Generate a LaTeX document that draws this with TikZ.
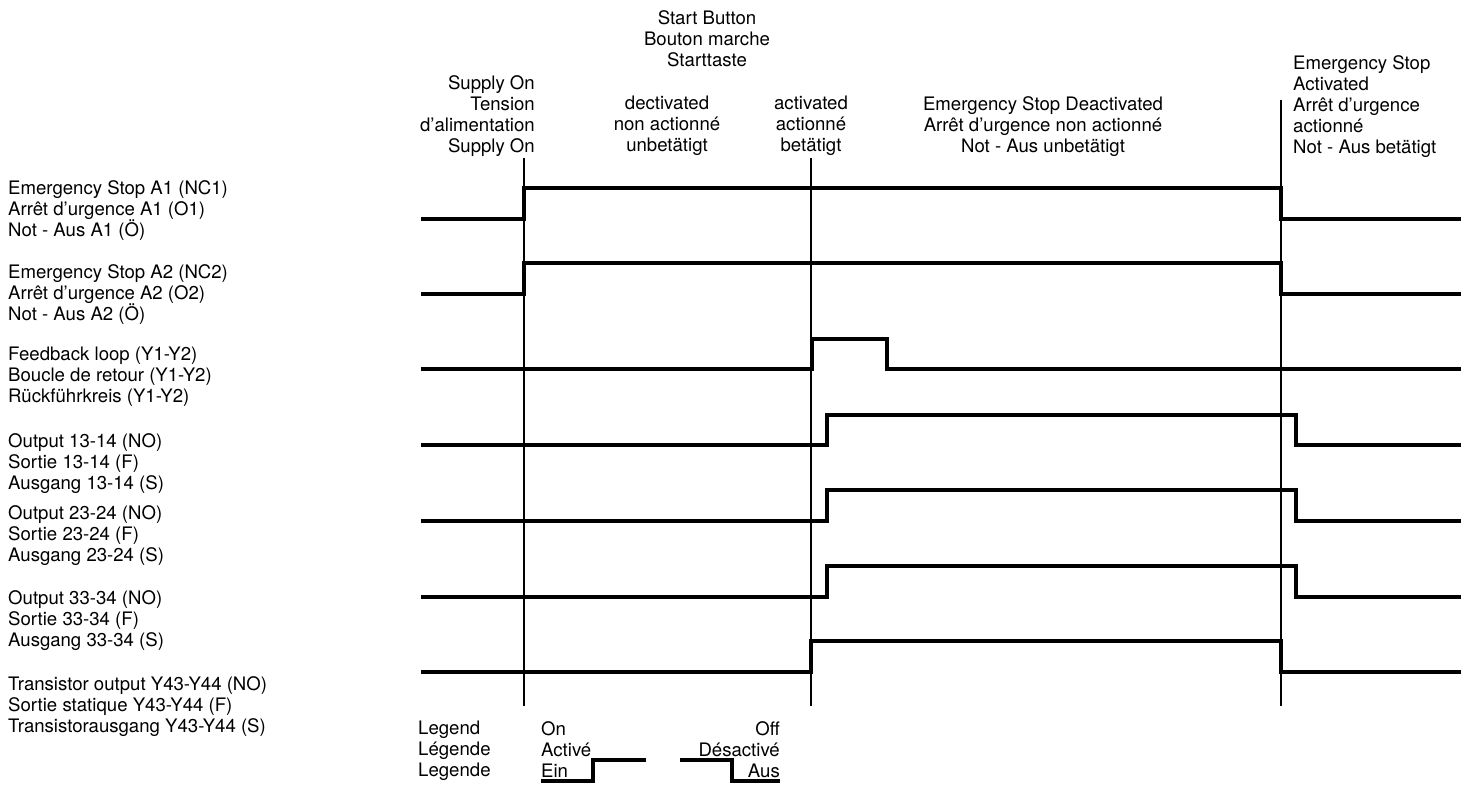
\documentclass[tikz,border=0pt]{standalone}
\usepackage{fontspec}
\setmainfont{TeX Gyre Heros}
\usepackage{tikz}
\usetikzlibrary{positioning}

\begin{document}
\begin{tikzpicture}[x=1pt, y=-1pt, font=\fontsize{18.6}{21}\selectfont]
        \tikzstyle{rowtext} = [inner sep=0pt, anchor=north west, align=left]
        \tikzstyle{headtext} = [inner sep=0pt, anchor=north, align=center]
        \tikzstyle{wave} = [line width=4pt]
        \tikzstyle{marker} = [line width=2pt]

        \useasboundingbox (0,0) rectangle (1471,785);

        \node (hdstart) [headtext] at (707,10) {Start Button\\Bouton marche\\Starttaste};
        \node (hdsupply) [headtext, anchor=north east, align=right] at (535,75) {Supply On\\Tension\\d’alimentation\\Supply On};
        \node (hdoff) [headtext] at (667,96) {dectivated\\non actionné\\unbetätigt};
        \node (hdon) [headtext] at (811,96) {activated\\actionné\\betätigt};
        \node (hdrun) [headtext] at (1043,96) {Emergency Stop Deactivated\\Arrêt d’urgence non actionné\\Not - Aus unbetätigt};
        \node (hdestop) [rowtext] at (1293,55) {Emergency Stop\\Activated\\Arrêt d’urgence\\actionné\\Not - Aus betätigt};

        \node (lbla) [rowtext] at (8,180) {Emergency Stop A1 (NC1)\\Arrêt d’urgence A1 (O1)\\Not - Aus A1 (Ö)};
        \node (lblb) [rowtext] at (8,264) {Emergency Stop A2 (NC2)\\Arrêt d’urgence A2 (O2)\\Not - Aus A2 (Ö)};
        \node (lblfb) [rowtext] at (8,347) {Feedback loop (Y1-Y2)\\Boucle de retour (Y1-Y2)\\Rückführkreis (Y1-Y2)};
        \node (lblq1) [rowtext] at (8,433) {Output 13-14 (NO)\\Sortie 13-14 (F)\\Ausgang 13-14 (S)};
        \node (lblq2) [rowtext] at (8,505) {Output 23-24 (NO)\\Sortie 23-24 (F)\\Ausgang 23-24 (S)};
        \node (lblq3) [rowtext] at (8,590) {Output 33-34 (NO)\\Sortie 33-34 (F)\\Ausgang 33-34 (S)};
        \node (lbly) [rowtext] at (8,676) {Transistor output Y43-Y44 (NO)\\Sortie statique Y43-Y44 (F)\\Transistorausgang Y43-Y44 (S)};

        \node (lgd) [rowtext] at (418,721) {Legend\\Légende\\Legende};
        \node (lgdon) [rowtext] at (541,721) {On\\Activé\\Ein};
        \node (lgdoff) [rowtext, anchor=north east, align=right] at (780,721) {Off\\Désactivé\\Aus};

        \draw [marker] (524,158) -- (524,706);
        \draw [marker] (811,158) -- (811,706);
        \draw [marker] (1281,100) -- (1281,706);

        \draw [wave] (421,219) -- (524,219) -- (524,188) -- (1281,188) -- (1281,219) -- (1461,219);
        \draw [wave] (421,294) -- (524,294) -- (524,263) -- (1281,263) -- (1281,294) -- (1461,294);
        \draw [wave] (421,369) -- (812,369) -- (812,339) -- (887,339) -- (887,369) -- (1461,369);
        \draw [wave] (421,445) -- (827,445) -- (827,415) -- (1296,415) -- (1296,445) -- (1461,445);
        \draw [wave] (421,521) -- (827,521) -- (827,490) -- (1296,490) -- (1296,521) -- (1461,521);
        \draw [wave] (421,597) -- (827,597) -- (827,566) -- (1296,566) -- (1296,597) -- (1461,597);
        \draw [wave] (421,672) -- (811,672) -- (811,641) -- (1281,641) -- (1281,672) -- (1461,672);

        \draw [wave] (541,781) -- (593,781) -- (593,760) -- (646,760);
        \draw [wave] (680,760) -- (732,760) -- (732,781) -- (780,781);
    \end{tikzpicture}
\end{document}
